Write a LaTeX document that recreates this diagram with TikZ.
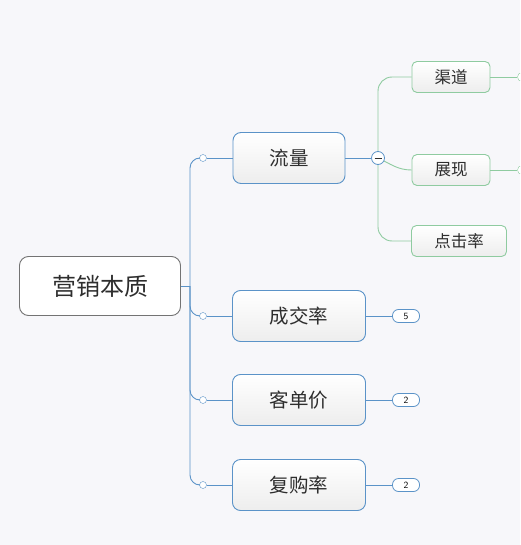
\documentclass[tikz,border=0pt]{standalone}
\usepackage{fontspec}
\newfontfamily\cjk{Noto Sans CJK SC}
\usepackage{xcolor}
\usepackage{tikz}
\usetikzlibrary{positioning, calc}

\definecolor{bgpaper}{HTML}{F7F7FA}
\definecolor{blueline}{HTML}{5B93C8}
\definecolor{greenline}{HTML}{8FCBA0}
\definecolor{inkgray}{HTML}{2E2E2E}

\begin{document}
\begin{tikzpicture}[
    x=1pt, y=-1pt,
    rootbox/.style={draw=gray!90!black, line width=0.9pt, rounded corners=9pt, fill=white, minimum width=161pt, minimum height=59pt, font=\cjk\fontsize{24}{28}\selectfont, text=inkgray},
    topic/.style={draw=blueline, line width=0.9pt, rounded corners=8pt, top color=white, bottom color=gray!14, minimum height=51pt, font=\cjk\fontsize{19.5}{23}\selectfont, text=inkgray},
    subtopic/.style={draw=greenline, line width=0.9pt, rounded corners=5pt, top color=white, bottom color=gray!14, minimum height=31pt, font=\cjk\fontsize{16.5}{19}\selectfont, text=inkgray},
    badge/.style={draw=blueline, line width=0.8pt, rounded corners=6pt, fill=white, minimum width=27pt, minimum height=13pt, inner sep=0pt, font=\sffamily\fontsize{9.5}{10}\selectfont},
    dot/.style={circle, draw=blueline, fill=white, minimum size=7pt, inner sep=0pt},
    bl/.style={draw=blueline, line width=0.9pt},
    gl/.style={draw=greenline, line width=0.9pt},
]

\fill[bgpaper] (0,0) rectangle (520,545);
\clip (0,0) rectangle (520,545);

% root
\node[rootbox] (root) at (100,286) {营销本质};

% main topics
\node[topic, minimum width=112pt] (liuliang) at (289,158) {流量};
\node[topic, minimum width=133pt] (chengjiao) at (299,316) {成交率};
\node[topic, minimum width=133pt] (kedan) at (299,400) {客单价};
\node[topic, minimum width=133pt] (fugou) at (299,485) {复购率};

% dots on the trunk
\node[dot] (d1) at (203,158) {};
\node[dot] (d2) at (203,316) {};
\node[dot] (d3) at (203,400) {};
\node[dot] (d4) at (203,485) {};

% trunk
\coordinate (hub) at (190,286);
\draw[bl] (root.east) -- (hub);
\foreach \d in {d1,d2,d3,d4}
    \draw[bl, rounded corners=10pt] (hub) |- (\d);
\draw[bl] (d1) -- (liuliang);
\draw[bl] (d2) -- (chengjiao);
\draw[bl] (d3) -- (kedan);
\draw[bl] (d4) -- (fugou);

% collapsed counts
\node[badge] (b1) at (406,316) {5};
\node[badge] (b2) at (406,400) {2};
\node[badge] (b3) at (406,485) {2};
\draw[bl] (chengjiao) -- (b1);
\draw[bl] (kedan) -- (b2);
\draw[bl] (fugou) -- (b3);

% subtopics of 流量
\node[subtopic, minimum width=78pt] (qudao) at (451,77) {渠道};
\node[subtopic, minimum width=78pt] (zhanxian) at (451,170) {展现};
\node[subtopic, minimum width=95pt] (dianji) at (459,241) {点击率};

\coordinate (fork) at (378,158);
\draw[gl, rounded corners=14pt] (fork) |- (qudao.west);
\draw[gl, rounded corners=14pt] (fork) |- (dianji.west);
\draw[gl] (fork) to[out=-25, in=180] (zhanxian.west);

% collapse button
\node[circle, draw=blueline, line width=0.8pt, fill=white, minimum size=13pt, inner sep=0pt] (minus) at (fork) {};
\draw[inkgray, line width=0.8pt] ($(minus)+(-3.5,0)$) -- ($(minus)+(3.5,0)$);
\draw[bl] (liuliang) -- (minus);

% cut-off children at the right edge
\node[circle, draw=greenline, fill=white, minimum size=9pt, inner sep=0pt] (e1) at (522,77) {};
\node[circle, draw=greenline, fill=white, minimum size=9pt, inner sep=0pt] (e2) at (522,170) {};
\draw[gl] (qudao) -- (e1);
\draw[gl] (zhanxian) -- (e2);

\end{tikzpicture}
\end{document}
